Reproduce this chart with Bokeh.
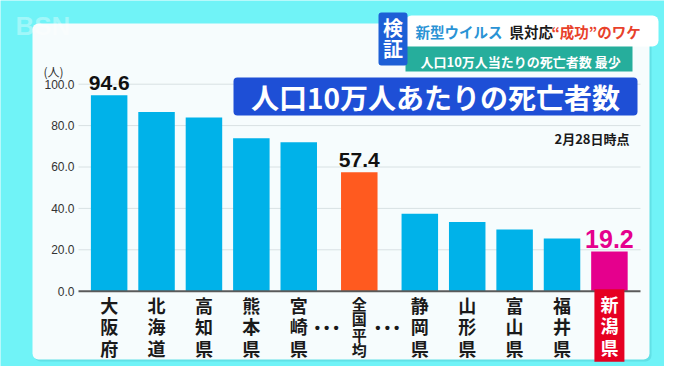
from bokeh.plotting import figure
from bokeh.models import ColumnDataSource, FactorRange, Range1d
from bokeh.transform import dodge
from bokeh.core.properties import value
from bokeh.embed import file_html
from bokeh.resources import INLINE

# ---------------- data ----------------
prefectures = ["大阪府", "北海道", "高知県", "熊本県", "宮崎県", "全国平均",
               "静岡県", "山形県", "富山県", "福井県", "新潟県"]
groups = ["上位", "上位", "上位", "上位", "上位", "全国",
          "下位", "下位", "下位", "下位", "下位"]
deaths = [94.6, 86.6, 83.9, 73.9, 72.0, 57.4, 37.4, 33.4, 29.8, 25.5, 19.2]
value_labels = ["94.6", "", "", "", "", "57.4", "", "", "", "", "19.2"]
kind = ["pref", "pref", "pref", "pref", "pref", "avg",
        "pref", "pref", "pref", "pref", "home"]
y_ticks = [0, 20, 40, 60, 80, 100]
title_text = "人口10万人あたりの死亡者数"
date_note = "2月28日時点"
unit_text = "(人)"
banner_blue = "新型ウイルス"
banner_black = "県対応"
banner_red = "“成功”のワケ"
banner_sub = "人口10万人当たりの死亡者数 最少"
badge = ["検", "証"]
logo = "BSN"

# ---------------- styles / layout ----------------
CJK = "Noto Sans CJK JP"
LAT = "Liberation Sans"
CYAN = "#70f3f7"
PANEL = "#f6fcfd"
COLORS = {"pref": "#00b2e9", "avg": "#ff5a1f", "home": "#e5008d"}
W, H = 664, 366
GROUP_PAD = 0.277
RANGE_PAD = 1.227
SHIFT = 0.565        # horizontal placement of the category block inside the canvas

factors = list(zip(groups, prefectures))
x_range = FactorRange(factors=factors, factor_padding=0.0, group_padding=GROUP_PAD,
                      range_padding=RANGE_PAD, range_padding_units="absolute")
y_range = Range1d(-36.38, 140.43)

# canvas-pixel -> synthetic x coordinate of the factor range (for decorations)
_n_groups = len(dict.fromkeys(groups))
_syn_start = -RANGE_PAD
_syn_end = len(factors) + (_n_groups - 1) * GROUP_PAD + RANGE_PAD
def X(px):
    return _syn_start + px / W * (_syn_end - _syn_start)

p = figure(width=W, height=H, x_range=x_range, y_range=y_range,
           output_backend="svg", toolbar_location=None, title=None,
           x_axis_location=None, y_axis_location=None, min_border=0)
p.extra_y_ranges = {"px": Range1d(H, 0)}
p.background_fill_color = CYAN
p.border_fill_color = CYAN
p.outline_line_color = None
p.grid.visible = False

PX = dict(y_range_name="px")

# panel with soft shadow
p.quad(left=X(34), right=X(651), top=25, bottom=361, fill_color="#5bd9de", fill_alpha=0.7,
       line_color=None, border_radius=6, **PX)
p.quad(left=X(32), right=X(649), top=23, bottom=359, fill_color=PANEL, line_color=None,
       border_radius=6, **PX)

# grid lines and tick labels (y in data units)
grid_vals = [t for t in y_ticks if t > 0]
p.segment(x0=X(78), x1=X(640), y0=grid_vals, y1=grid_vals, line_color="#d8e1e3",
          line_width=1)
p.text(x=X(74), y=y_ticks, text=[f"{t:.1f}" for t in y_ticks], text_font=value(LAT),
       text_font_size="12px", text_color="#333333", text_align="right",
       text_baseline="middle")
p.text(x=X(53), y=71, text=[unit_text], text_font=value(CJK), text_font_size="12px",
       text_color="#333333", text_align="center", text_baseline="middle", **PX)

# bars
src = ColumnDataSource(dict(x=factors, deaths=deaths,
                            color=[COLORS[k] for k in kind]))
xd = dodge("x", SHIFT, range=x_range)
p.vbar(x=xd, top="deaths", width=0.77, source=src, fill_color="color", line_color=None)
p.segment(x0=X(78), x1=X(640), y0=[0], y1=[0], line_color="#5a5a5a", line_width=2)

def subset(pred):
    idx = [i for i in range(len(prefectures)) if pred(i)]
    return ColumnDataSource(dict(
        x=[factors[i] for i in idx], deaths=[deaths[i] for i in idx],
        vlab=[value_labels[i] for i in idx],
        vname=["\n".join(prefectures[i]) for i in idx]))

# value labels
p.text(x=xd, y="deaths", text="vlab", source=subset(lambda i: value_labels[i] and kind[i] != "home"),
       text_font=value(LAT), text_font_style="bold", text_font_size="21px",
       text_color="#111111", text_align="center", text_baseline="alphabetic", y_offset=-12)
p.text(x=xd, y="deaths", text="vlab", source=subset(lambda i: value_labels[i] and kind[i] == "home"),
       text_font=value(LAT), text_font_style="bold", text_font_size="25px",
       text_color=COLORS["home"], text_align="center", text_baseline="alphabetic", y_offset=-12)

# category labels (vertical writing)
p.text(x=xd, y=326, text="vname", source=subset(lambda i: kind[i] == "pref"),
       text_font=value(CJK), text_font_style="bold", text_font_size="18px",
       text_line_height=0.82, text_color="#1a1a1a", text_align="center",
       text_baseline="middle", **PX)
p.text(x=xd, y=326, text="vname", source=subset(lambda i: kind[i] == "avg"),
       text_font=value(CJK), text_font_style="bold", text_font_size="15px",
       text_line_height=0.72, text_color="#1a1a1a", text_align="center",
       text_baseline="middle", **PX)
p.text(x=xd, y=325, text="vname", source=subset(lambda i: kind[i] == "home"),
       text_font=value(CJK), text_font_style="bold", text_font_size="18px",
       text_line_height=0.82, text_color="white", text_align="center",
       text_baseline="middle", background_fill_color="#e60022",
       padding=dict(left=6, right=6, top=2, bottom=2), **PX)

# ellipsis between groups
gap_src = ColumnDataSource(dict(x=[factors[4], factors[5]], t=["• • •", "• • •"]))
p.text(x=xd, y=327, text="t", source=gap_src, text_font=value(LAT),
       text_font_style="bold", text_font_size="15px", text_color="#1a1a1a",
       text_align="center", text_baseline="middle", x_offset=28, **PX)

# title box and date note
p.quad(left=X(233), right=X(637), top=77, bottom=115, fill_color="#1e4fd6", line_color=None,
       border_radius=4, **PX)
p.text(x=X(435), y=96, text=[title_text], text_font=value(CJK), text_font_style="bold",
       text_font_size="28px", text_color="white", text_align="center",
       text_baseline="middle", **PX)
p.text(x=X(629), y=138, text=[date_note], text_font=value(CJK), text_font_style="bold",
       text_font_size="13px", text_color="#1a1a1a", text_align="right",
       text_baseline="middle", **PX)

# broadcast banner
p.quad(left=X(405), right=X(658), top=15, bottom=46, fill_color="white", line_color=None,
       border_radius=6, **PX)
p.quad(left=X(405), right=X(632), top=46, bottom=71, fill_color="#26ae9c", line_color=None, **PX)
p.quad(left=X(378), right=X(407), top=12, bottom=65, fill_color="#1d5fd6", line_color=None,
       border_radius=3, **PX)
p.text(x=X(392.5), y=[27, 48], text=badge, text_font=value(CJK), text_font_style="bold",
       text_font_size="20px", text_color="white", text_align="center",
       text_baseline="middle", **PX)
p.text(x=[X(415), X(509), X(551)], y=31, text=[banner_blue, banner_black, banner_red],
       text_font=value(CJK), text_font_style="bold", text_font_size="14.5px",
       text_color=["#2a93d5", "#1a1a1a", "#e8412b"], text_align="left",
       text_baseline="middle", **PX)
p.text(x=X(420), y=61, text=[banner_sub], text_font=value(CJK), text_font_style="bold",
       text_font_size="13px", text_color="white", text_align="left",
       text_baseline="middle", **PX)
p.text(x=X(15), y=25, text=[logo], text_font=value(LAT), text_font_style="bold",
       text_font_size="26px", text_color="white", text_alpha=0.35, text_align="left",
       text_baseline="middle", **PX)

open("out.html", "w").write(file_html(p, INLINE))
